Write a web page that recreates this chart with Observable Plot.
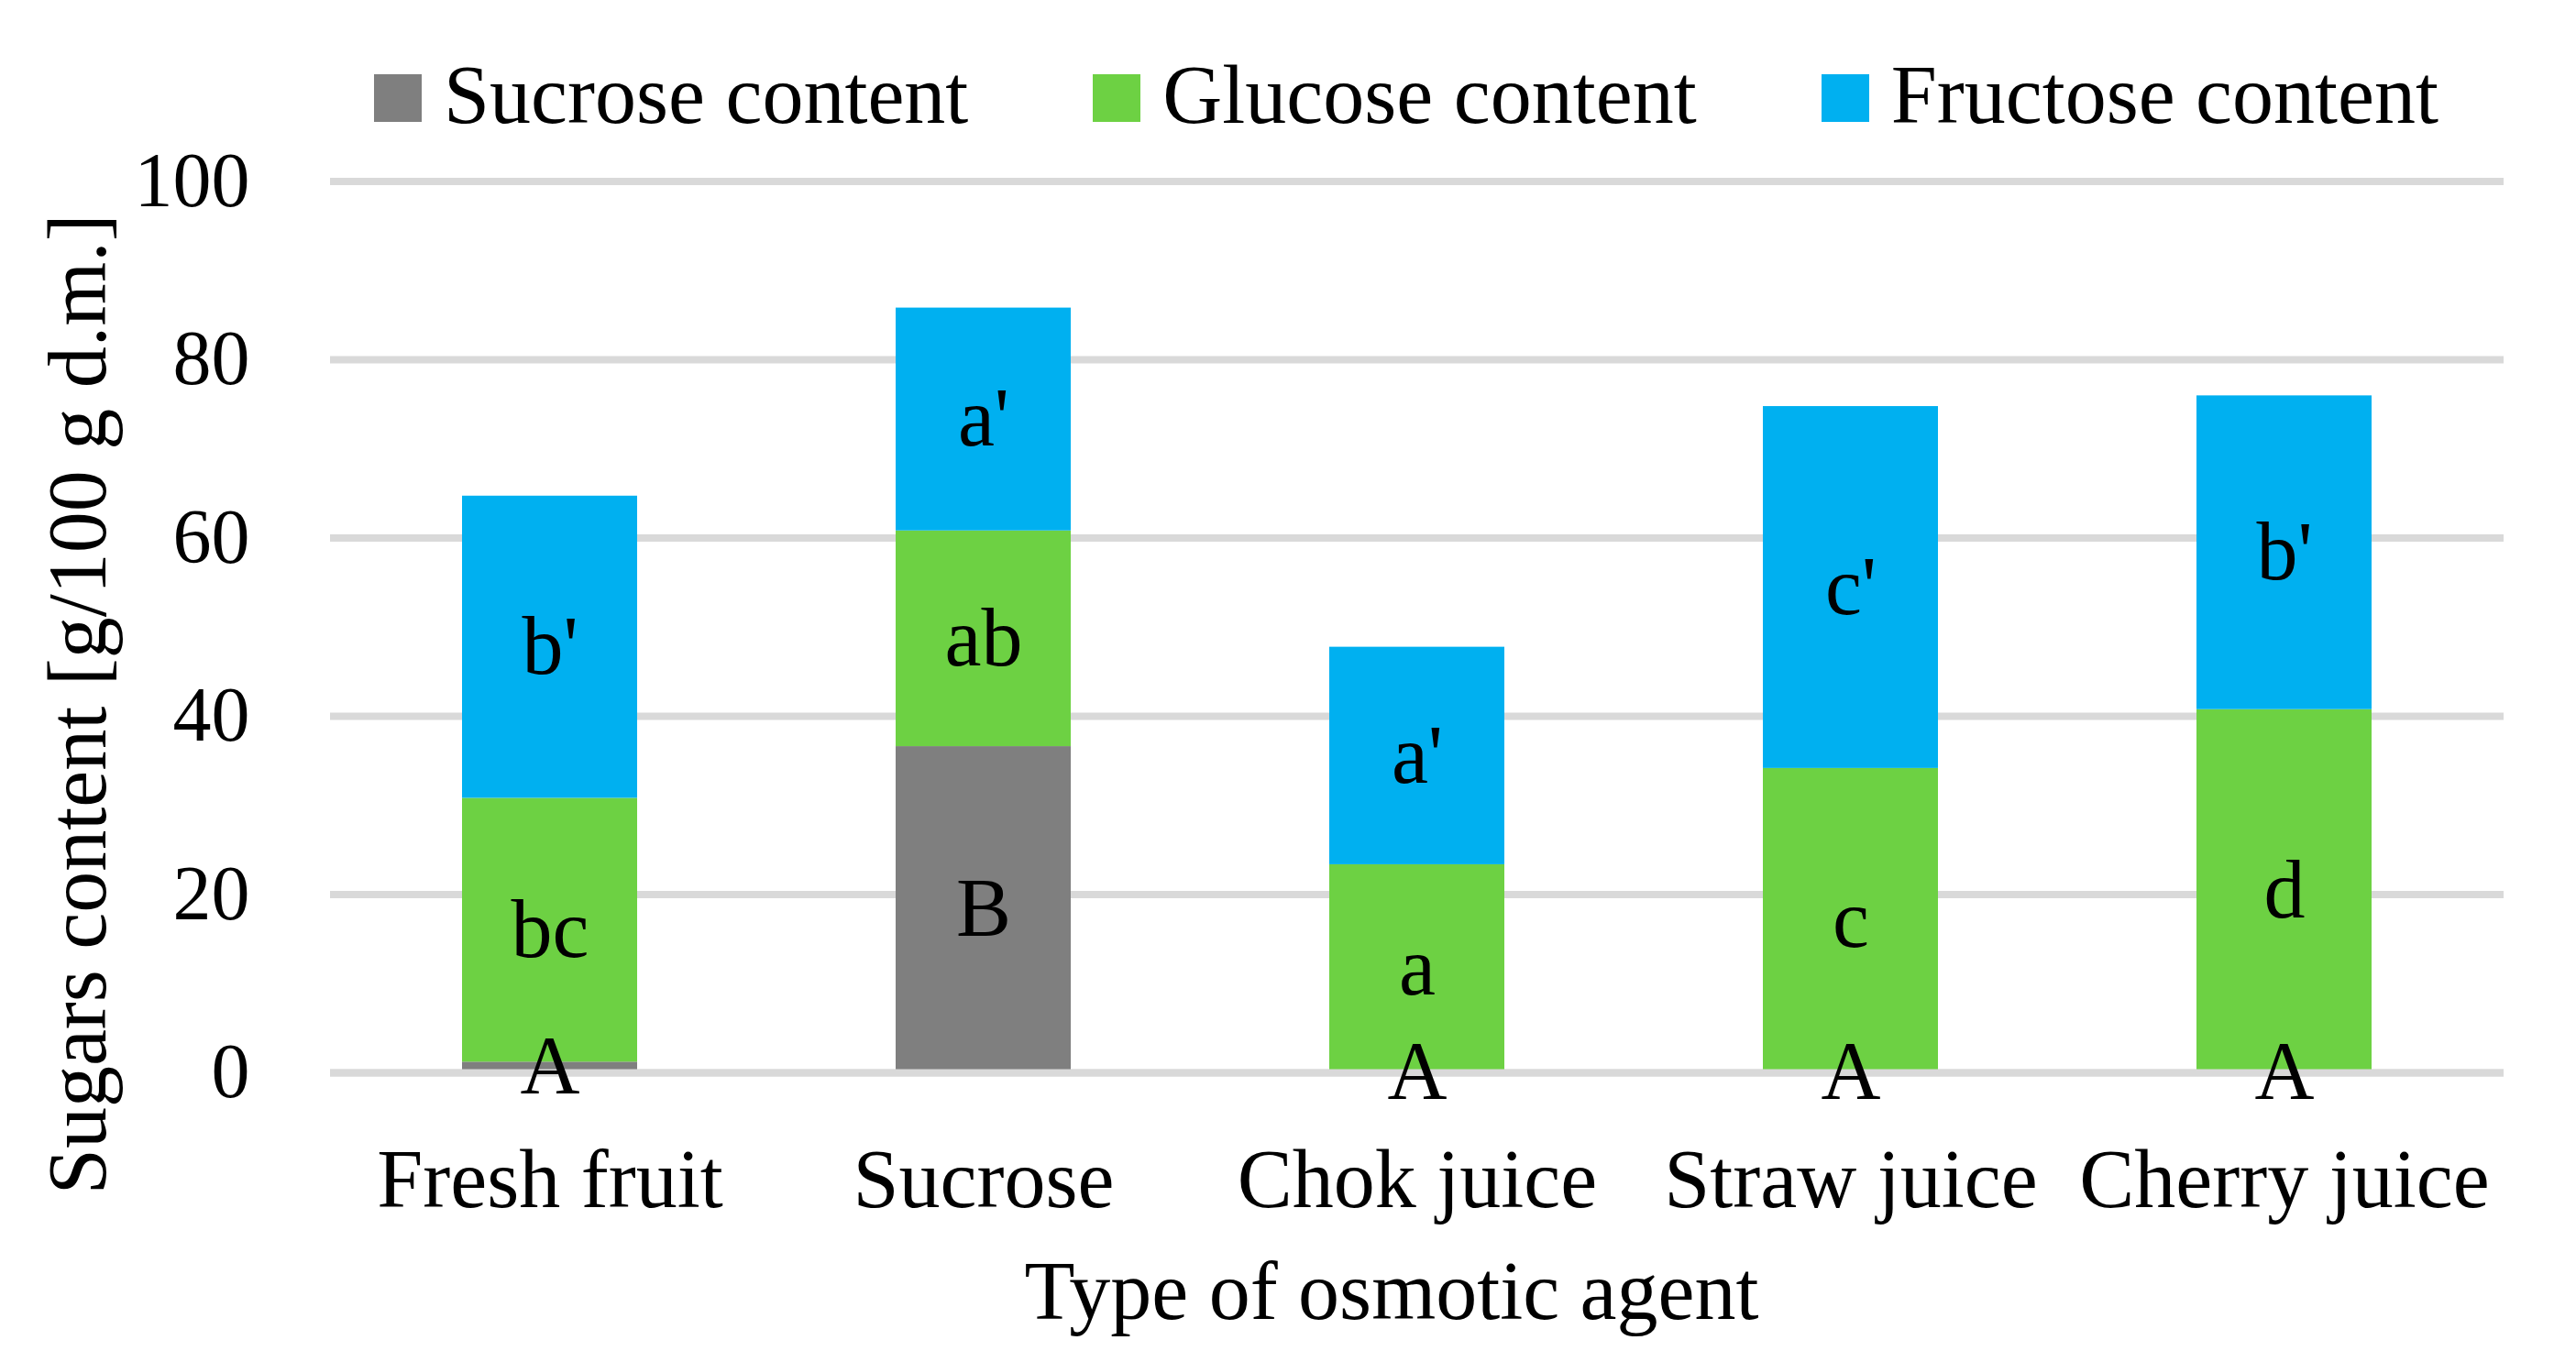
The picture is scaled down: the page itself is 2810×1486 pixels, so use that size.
<!DOCTYPE html>
<html>
<head>
<meta charset="utf-8">
<script src="https://cdn.jsdelivr.net/npm/d3@7"></script>
<script src="https://cdn.jsdelivr.net/npm/@observablehq/plot@0.6"></script>
<style>
  html, body { margin: 0; padding: 0; background: #ffffff; }
  body { width: 2810px; height: 1486px; overflow: hidden; font-family: "Liberation Serif", serif; color: #000; }
  #legend { height: 140px; box-sizing: border-box; padding-top: 81px; padding-left: 408px; display: flex; flex-direction: row; align-items: flex-start; }
  .item { display: flex; align-items: center; height: 52px; margin-right: 136px; }
  .sw { width: 52px; height: 52px; margin-right: 24px; }
  .lab { font-size: 90px; line-height: 52px; white-space: nowrap; position: relative; top: -3px; }
  svg { display: block; overflow: visible; }
</style>
</head>
<body>
<div id="legend"></div>
<div id="chart"></div>
<script>
const categories = ["Fresh fruit", "Sucrose", "Chok juice", "Straw juice", "Cherry juice"];
const sugars = ["Sucrose content", "Glucose content", "Fructose content"];
const colors = ["#7F7F7F", "#6DD143", "#00B0F0"];
const sucroseValues = [1.2, 36.6, 0.15, 0.05, 0.05];
const glucoseValues = [29.6, 24.2, 23.2, 34.1, 40.7];
const fructoseValues = [33.9, 25.0, 24.4, 40.6, 35.2];
const sucroseLetters = ["A", "B", "A", "A", "A"];
const glucoseLetters = ["bc", "ab", "a", "c", "d"];
const fructoseLetters = ["b'", "a'", "a'", "c'", "b'"];
const yTicks = [0, 20, 40, 60, 80, 100];
const xTitle = "Type of osmotic agent";
const yTitle = "Sugars content [g/100 g d.m.]";

const seriesValues = [sucroseValues, glucoseValues, fructoseValues];
const seriesLetters = [sucroseLetters, glucoseLetters, fructoseLetters];
const data = [];
categories.forEach((c, i) => {
  sugars.forEach((s, j) => {
    data.push({category: c, sugar: s, value: seriesValues[j][i], letter: seriesLetters[j][i]});
  });
});

// Legend
const legend = document.getElementById("legend");
sugars.forEach((s, j) => {
  const item = document.createElement("div");
  item.className = "item";
  const sw = document.createElement("div");
  sw.className = "sw";
  sw.style.background = colors[j];
  const lab = document.createElement("span");
  lab.className = "lab";
  lab.textContent = s;
  item.appendChild(sw);
  item.appendChild(lab);
  legend.appendChild(item);
});

const grid = "#D9D9D9";
const chart = Plot.plot({
  width: 2810,
  height: 1346,
  marginTop: 57.5,
  marginBottom: 316,
  marginLeft: 360,
  marginRight: 79,
  style: {fontFamily: "'Liberation Serif', serif", fontSize: "90px", color: "#000", background: "#fff"},
  x: {domain: categories, paddingInner: 0.597, paddingOuter: 0.3, label: null},
  y: {domain: [0, 100], ticks: yTicks, label: null},
  color: {domain: sugars, range: colors},
  marks: [
    Plot.gridY(yTicks, {stroke: grid, strokeWidth: 8, strokeOpacity: 1}),
    Plot.barY(data, {x: "category", y: "value", fill: "sugar", z: "sugar", order: null}),
    Plot.ruleY([0], {stroke: grid, strokeWidth: 8}),
    Plot.axisY(yTicks, {tickSize: 0, tickPadding: 88, fontSize: 84, label: null}),
    Plot.axisX({tickSize: 0, tickPadding: 83, fontSize: 90, label: null}),
    Plot.text(data, Plot.stackY({x: "category", y: "value", z: "sugar", text: "letter", fill: "#000", fontSize: 90, order: null})),
    Plot.text([xTitle], {text: d => d, frameAnchor: "bottom", textAnchor: "middle", lineAnchor: "middle", dy: 240, dx: -28, fontSize: 90, fill: "#000"}),
    Plot.text([yTitle], {text: d => d, frameAnchor: "left", textAnchor: "middle", lineAnchor: "middle", rotate: -90, dx: -274, dy: 84, fontSize: 90, fill: "#000"})
  ]
});
document.getElementById("chart").appendChild(chart);
</script>
</body>
</html>
